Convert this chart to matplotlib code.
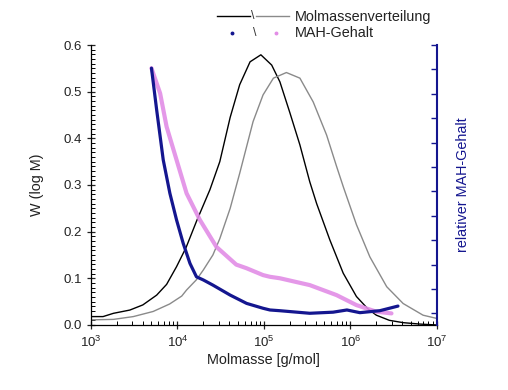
import numpy as np
import matplotlib
matplotlib.use("Agg")
import matplotlib.pyplot as plt
from matplotlib.lines import Line2D
from matplotlib.ticker import MultipleLocator, LogLocator, NullFormatter, FormatStrFormatter

plt.rcParams["font.family"] = ["Liberation Sans", "DejaVu Sans"]

# DATA (log10 of molar mass)

# Molmassenverteilung, sample 1 (black)
black_logm = [3.0, 3.14, 3.26, 3.45, 3.60, 3.76, 3.875, 3.99, 4.10, 4.22, 4.376,
              4.49, 4.61, 4.72, 4.84, 4.965, 5.09, 5.185, 5.30, 5.416, 5.53,
              5.61, 5.763, 5.917, 6.07, 6.20, 6.30, 6.45, 6.61, 6.80, 7.0]
black_w = [0.018, 0.018, 0.025, 0.032, 0.043, 0.064, 0.087, 0.125, 0.166, 0.222, 0.29,
           0.35, 0.445, 0.515, 0.564, 0.579, 0.557, 0.521, 0.455, 0.386, 0.307,
           0.26, 0.182, 0.111, 0.061, 0.035, 0.021, 0.010, 0.005, 0.002, 0.0]

# Molmassenverteilung, sample 2 (grey)
grey_logm = [3.0, 3.26, 3.49, 3.72, 3.91, 4.05, 4.106, 4.22, 4.30, 4.41, 4.49, 4.61,
             4.72, 4.875, 4.99, 5.11, 5.26, 5.416, 5.57, 5.725, 5.84, 5.92, 6.07,
             6.225, 6.42, 6.61, 6.84, 7.0]
grey_w = [0.011, 0.012, 0.018, 0.029, 0.045, 0.062, 0.075, 0.097, 0.118, 0.150, 0.185, 0.25,
          0.325, 0.436, 0.493, 0.529, 0.541, 0.529, 0.478, 0.407, 0.34, 0.295, 0.215,
          0.146, 0.082, 0.046, 0.021, 0.014]

# MAH-Gehalt, sample 1 (blue), relative units
blue_logm = [3.70, 3.76, 3.836, 3.913, 3.99, 4.067, 4.145, 4.22, 4.30, 4.41, 4.61,
             4.80, 4.99, 5.07, 5.185, 5.53, 5.80, 5.96, 6.11, 6.34, 6.55]
blue_mah = [10.05, 8.34, 6.29, 4.92, 3.83, 2.87, 2.05, 1.50, 1.37, 1.16, 0.75,
            0.41, 0.21, 0.14, 0.11, 0.005, 0.05, 0.14, 0.03, 0.11, 0.30]

# MAH-Gehalt, sample 2 (pink), relative units
pink_logm = [3.70, 3.80, 3.875, 3.99, 4.106, 4.26, 4.45, 4.68, 4.80, 4.99, 5.07,
             5.185, 5.53, 5.84, 6.07, 6.30, 6.475]
pink_mah = [10.05, 9.02, 7.65, 6.29, 4.92, 3.83, 2.73, 2.0, 1.85, 1.57, 1.50,
            1.44, 1.16, 0.75, 0.34, 0.07, 0.0]

blue = "#14168f"
pink = "#e28de6"

fig = plt.figure(figsize=(5.08, 3.90), dpi=100)
ax = fig.add_axes([0.179, 0.1667, 0.681, 0.7179])
ax2 = ax.twinx()

ax.plot(10 ** np.array(black_logm), black_w, color="black", lw=1.0)
ax.plot(10 ** np.array(grey_logm), grey_w, color="#8a8a8a", lw=1.0)

ax2.plot(10 ** np.array(pink_logm), pink_mah, color=pink, lw=3.0, alpha=0.9,
         solid_capstyle="round")
ax2.plot(10 ** np.array(blue_logm), blue_mah, color=blue, lw=2.3,
         solid_capstyle="round")

ax.set_xscale("log")
ax.set_xlim(1e3, 1e7)
ax.set_ylim(0, 0.6)
ax2.set_ylim(-0.475, 11)

ax.yaxis.set_major_locator(MultipleLocator(0.1))
ax.yaxis.set_minor_locator(MultipleLocator(0.01))
ax.xaxis.set_major_locator(LogLocator(base=10, numticks=10))
ax.xaxis.set_minor_locator(LogLocator(base=10, subs=np.arange(2, 10), numticks=20))
ax.xaxis.set_minor_formatter(NullFormatter())
ax.yaxis.set_major_formatter(FormatStrFormatter("%.1f"))

ax.tick_params(which="major", direction="inout", length=6, width=0.9,
               labelsize=9.5, colors="#222222")
ax.tick_params(which="minor", direction="in", length=3, width=0.7)
ax.tick_params(axis="y", right=False)
ax.tick_params(axis="x", top=False, pad=4)

ax2.yaxis.set_major_locator(MultipleLocator(1))
ax2.tick_params(axis="y", direction="in", length=4, width=1.0, colors=blue,
                labelright=False)

for a in (ax, ax2):
    a.spines["top"].set_visible(False)
ax2.spines["left"].set_visible(False)
ax2.spines["bottom"].set_visible(False)
ax.spines["right"].set_visible(False)
ax2.spines["right"].set_color(blue)
ax2.spines["right"].set_linewidth(1.5)
ax.spines["left"].set_linewidth(0.9)
ax.spines["bottom"].set_linewidth(0.9)

ax.set_xlabel("Molmasse [g/mol]", fontsize=10.4, color="#222222", labelpad=2)
ax.set_ylabel("W (log M)", fontsize=10.4, color="#222222", labelpad=14)
ax2.set_ylabel("relativer MAH-Gehalt", fontsize=10.4, color=blue, labelpad=14)

# LEGEND (drawn by hand above the plot)

def fx(px):
    return px / 508


def fy(py):
    return 1 - py / 390


fig.add_artist(Line2D([fx(217), fx(250)], [fy(16), fy(16)], color="black", lw=1.0,
                      transform=fig.transFigure))
fig.add_artist(Line2D([fx(256), fx(289)], [fy(16), fy(16)], color="#8a8a8a", lw=1.0,
                      transform=fig.transFigure))
fig.text(fx(253), fy(16), "\\", fontsize=9, ha="center", va="center", color="#333333")
fig.text(fx(295), fy(17), "Molmassenverteilung", fontsize=10.4, ha="left", va="center",
         color="#222222")

fig.add_artist(Line2D([fx(232)], [fy(33)], color=blue, marker="o", ms=1.8, lw=0,
                      transform=fig.transFigure))
fig.add_artist(Line2D([fx(276)], [fy(33)], color=pink, marker="o", ms=1.8, lw=0,
                      transform=fig.transFigure))
fig.text(fx(255), fy(33), "\\", fontsize=9, ha="center", va="center", color="#333333")
fig.text(fx(295), fy(33), "MAH-Gehalt", fontsize=10.4, ha="left", va="center",
         color="#222222")

fig.savefig("out.png", dpi=100)
